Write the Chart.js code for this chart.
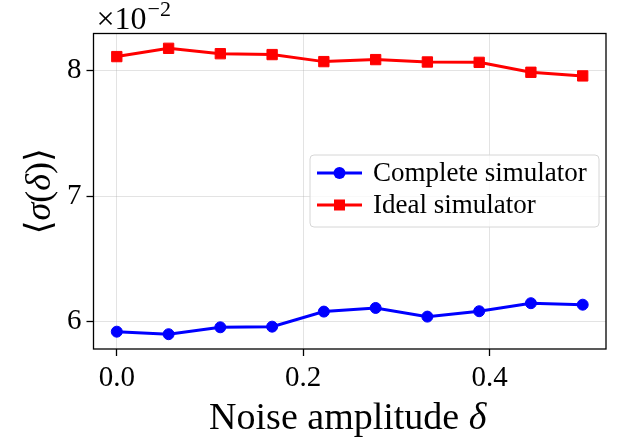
<!DOCTYPE html>
<html>
<head>
<meta charset="utf-8">
<script src="https://cdn.jsdelivr.net/npm/chart.js@4.4.1/dist/chart.umd.min.js"></script>
<style>
  body { margin: 0; background: #fff; }
  canvas { display: block; }
</style>
</head>
<body>
<canvas id="sigma" width="619" height="439"></canvas>
<script>
const noiseAmp = [0, 0.0556, 0.1111, 0.1667, 0.2222, 0.2778, 0.3333, 0.3889, 0.4444, 0.5];
const completeSim = [5.920, 5.900, 5.955, 5.960, 6.080, 6.109, 6.040, 6.083, 6.147, 6.135];
const idealSim = [8.112, 8.178, 8.135, 8.128, 8.072, 8.088, 8.069, 8.066, 7.987, 7.958];
const xTicks = [0.0, 0.2, 0.4];
const yTicks = [6, 7, 8];
const seriesNames = ["Complete simulator", "Ideal simulator"];

const SERIF = "'Liberation Serif', 'DejaVu Serif', serif";

// draw a row of text pieces with mixed upright/italic styles, centred on x
function drawRuns(ctx, runs, x, y, size) {
  let total = 0;
  runs.forEach((r) => {
    ctx.font = `${r.italic ? "italic " : ""}${size}px ${SERIF}`;
    r.w = ctx.measureText(r.text).width;
    total += r.w;
  });
  let cx = x - total / 2;
  runs.forEach((r) => {
    ctx.font = `${r.italic ? "italic " : ""}${size}px ${SERIF}`;
    ctx.fillText(r.text, cx, y);
    cx += r.w;
  });
}

const decor = {
  id: "decor",
  afterDraw(chart) {
    const { ctx, chartArea: a } = chart;
    ctx.save();
    // frame round the plot
    ctx.strokeStyle = "#000";
    ctx.lineWidth = 1.3;
    ctx.strokeRect(a.left, a.top, a.right - a.left, a.bottom - a.top);

    ctx.fillStyle = "#000";
    ctx.textAlign = "left";
    ctx.textBaseline = "alphabetic";

    // exponent above the y axis
    ctx.font = `32px ${SERIF}`;
    ctx.fillText("×10", a.left + 3, 29);
    const w10 = ctx.measureText("×10").width;
    ctx.font = `22px ${SERIF}`;
    ctx.fillText("−2", a.left + 3 + w10 + 1, 16);

    // axis titles
    drawRuns(ctx, [{ text: "Noise amplitude " }, { text: "δ", italic: true }],
      (a.left + a.right) / 2 - 2, 429, 38);
    ctx.save();
    ctx.translate(50, (a.top + a.bottom) / 2);
    ctx.rotate(-Math.PI / 2);
    drawRuns(ctx, [
      { text: "⟨" }, { text: "σ", italic: true }, { text: "(" },
      { text: "δ", italic: true }, { text: ")" }, { text: "⟩" },
    ], 0, 0, 36);
    ctx.restore();

    // legend box
    const lx = 310, ly = 155, lw = 289, lh = 72;
    ctx.beginPath();
    ctx.roundRect(lx, ly, lw, lh, 4);
    ctx.fillStyle = "rgba(255,255,255,0.8)";
    ctx.fill();
    ctx.strokeStyle = "#d6d6d6";
    ctx.lineWidth = 1;
    ctx.stroke();

    chart.data.datasets.forEach((ds, i) => {
      const ry = 173 + i * 32;
      ctx.strokeStyle = ds.borderColor;
      ctx.lineWidth = ds.borderWidth;
      ctx.beginPath();
      ctx.moveTo(317, ry);
      ctx.lineTo(362, ry);
      ctx.stroke();
      ctx.fillStyle = ds.borderColor;
      if (ds.pointStyle === "rect") {
        ctx.fillRect(339.5 - 5.5, ry - 5.5, 11, 11);
      } else {
        ctx.beginPath();
        ctx.arc(339.5, ry, 6, 0, Math.PI * 2);
        ctx.fill();
      }
      ctx.fillStyle = "#000";
      ctx.textBaseline = "middle";
      ctx.font = `27px ${SERIF}`;
      ctx.fillText(ds.label, 373, ry + 1);
    });
    ctx.restore();
  },
};

new Chart(document.getElementById("sigma"), {
  type: "line",
  data: {
    datasets: [
      {
        label: seriesNames[0],
        data: noiseAmp.map((x, i) => ({ x, y: completeSim[i] })),
        borderColor: "#0000ff",
        backgroundColor: "#0000ff",
        borderWidth: 3,
        pointStyle: "circle",
        pointRadius: 5.5,
        pointBorderWidth: 1,
      },
      {
        label: seriesNames[1],
        data: noiseAmp.map((x, i) => ({ x, y: idealSim[i] })),
        borderColor: "#ff0000",
        backgroundColor: "#ff0000",
        borderWidth: 3,
        pointStyle: "rect",
        pointRadius: 7.3,
        pointBorderWidth: 1,
      },
    ],
  },
  options: {
    responsive: false,
    animation: false,
    layout: { padding: { left: 0, top: 33.5, right: 13, bottom: 0 } },
    plugins: { legend: { display: false }, tooltip: { enabled: false } },
    scales: {
      x: {
        type: "linear",
        min: -0.025,
        max: 0.525,
        afterBuildTicks: (s) => { s.ticks = xTicks.map((v) => ({ value: v })); },
        afterFit: (s) => { s.height = 90; },
        border: { display: false },
        grid: {
          color: "rgba(176,176,176,0.35)",
          lineWidth: 1,
          tickColor: "#000",
          tickWidth: 1.3,
          tickLength: 7,
        },
        ticks: {
          color: "#000",
          padding: 5,
          maxRotation: 0,
          font: { family: SERIF, size: 29 },
          callback: (v) => v.toFixed(1),
        },
      },
      y: {
        min: 5.782,
        max: 8.296,
        afterBuildTicks: (s) => { s.ticks = yTicks.map((v) => ({ value: v })); },
        afterFit: (s) => { s.width = 93.5; },
        border: { display: false },
        grid: {
          color: "rgba(176,176,176,0.35)",
          lineWidth: 1,
          tickColor: "#000",
          tickWidth: 1.3,
          tickLength: 7,
        },
        ticks: {
          color: "#000",
          padding: 5,
          font: { family: SERIF, size: 29 },
          callback: (v) => String(v),
        },
      },
    },
  },
  plugins: [decor],
});
</script>
</body>
</html>
